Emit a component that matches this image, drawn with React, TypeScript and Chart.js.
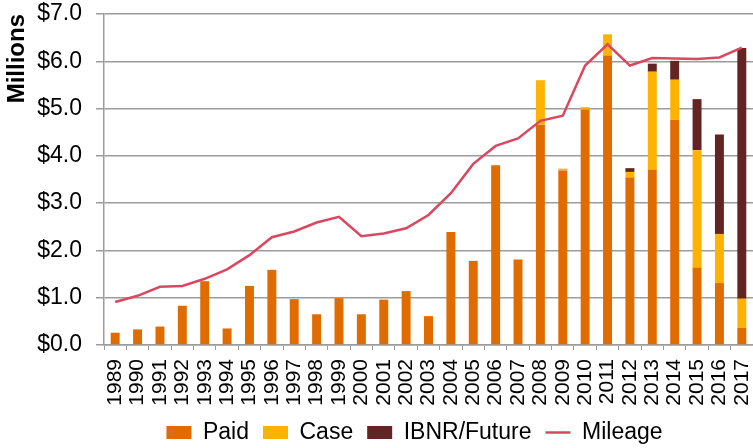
import React, { useEffect, useRef } from 'react';
import { Chart, registerables } from 'chart.js';

Chart.register(...registerables);

const years = [
  '1989', '1990', '1991', '1992', '1993', '1994', '1995', '1996', '1997', '1998',
  '1999', '2000', '2001', '2002', '2003', '2004', '2005', '2006', '2007', '2008',
  '2009', '2010', '2011', '2012', '2013', '2014', '2015', '2016', '2017',
];

const paid = [
  0.26, 0.33, 0.39, 0.83, 1.35, 0.35, 1.25, 1.59, 0.97, 0.65,
  0.99, 0.65, 0.96, 1.14, 0.61, 2.39, 1.78, 3.80, 1.81, 4.66,
  3.69, 4.98, 6.12, 3.54, 3.71, 4.76, 1.64, 1.31, 0.36,
];

const caseReserve = [
  0, 0, 0, 0, 0, 0, 0, 0, 0, 0,
  0, 0, 0, 0, 0, 0, 0, 0, 0, 0.94,
  0.04, 0.05, 0.45, 0.12, 2.07, 0.85, 2.48, 1.04, 0.62,
];

const ibnrFuture = [
  0, 0, 0, 0, 0, 0, 0, 0, 0, 0,
  0, 0, 0, 0, 0, 0, 0, 0, 0, 0,
  0, 0, 0, 0.08, 0.17, 0.40, 1.08, 2.10, 5.30,
];

const mileage = [
  0.91, 1.04, 1.23, 1.25, 1.40, 1.60, 1.90, 2.28, 2.40, 2.59,
  2.71, 2.30, 2.36, 2.47, 2.75, 3.21, 3.83, 4.21, 4.37, 4.74,
  4.85, 5.91, 6.36, 5.91, 6.07, 6.06, 6.05, 6.08, 6.29,
];

const yTickLabels = ['$0.0', '$1.0', '$2.0', '$3.0', '$4.0', '$5.0', '$6.0', '$7.0'];

const FONT = '"Liberation Sans", Arial, sans-serif';
const GRID = '#9c9c9c';

const legendShift = {
  id: 'legendShift',
  afterLayout(chart: any) {
    if (chart.legend) {
      chart.legend.left += 38;
      chart.legend.right += 38;
    }
  },
};

export default function App() {
  const ref = useRef<HTMLCanvasElement | null>(null);

  useEffect(() => {
    document.body.style.margin = '0';
    const canvas = ref.current;
    if (!canvas) return;
    const chart = new Chart(canvas, {
      type: 'bar',
      data: {
        labels: years,
        datasets: [
          {
            type: 'bar',
            label: 'Paid',
            data: paid,
            backgroundColor: '#E06C00',
            borderWidth: 0,
            stack: 'claims',
            order: 1,
            pointStyle: 'rect',
            categoryPercentage: 1,
            barPercentage: 0.4,
          },
          {
            type: 'bar',
            label: 'Case',
            data: caseReserve,
            backgroundColor: '#FFB300',
            borderWidth: 0,
            stack: 'claims',
            order: 1,
            pointStyle: 'rect',
            categoryPercentage: 1,
            barPercentage: 0.4,
          },
          {
            type: 'bar',
            label: 'IBNR/Future',
            data: ibnrFuture,
            backgroundColor: '#632523',
            borderWidth: 0,
            stack: 'claims',
            order: 1,
            pointStyle: 'rect',
            categoryPercentage: 1,
            barPercentage: 0.4,
          },
          {
            type: 'line',
            label: 'Mileage',
            data: mileage,
            borderColor: '#DA4860',
            backgroundColor: '#DA4860',
            borderWidth: 2.5,
            pointRadius: 0,
            tension: 0,
            stack: 'mileage',
            order: 0,
            pointStyle: 'line',
          } as any,
        ],
      },
      options: {
        animation: false,
        responsive: false,
        layout: { padding: { top: 14, right: 0, bottom: -6, left: 0 } },
        plugins: {
          tooltip: { enabled: false },
          legend: {
            position: 'bottom',
            labels: {
              usePointStyle: true,
              pointStyleWidth: 25,
              boxHeight: 13,
              padding: 14,
              color: '#000',
              font: { family: FONT, size: 23 },
              sort: (a: any, b: any) => a.datasetIndex - b.datasetIndex,
            },
          },
        },
        scales: {
          x: {
            stacked: true,
            grid: {
              display: true,
              drawOnChartArea: false,
              drawTicks: true,
              tickLength: 5,
              color: GRID,
              lineWidth: 1,
            },
            border: { display: true, color: GRID, width: 1.5 },
            ticks: {
              color: '#000',
              font: { family: FONT, size: 21 },
              minRotation: 90,
              maxRotation: 90,
              padding: 9,
              autoSkip: false,
            },
            afterFit: (scale: any) => {
              scale.height = 62;
              scale.paddingLeft = 0;
              scale.paddingRight = 0;
              scale.paddingTop = 0;
              scale.paddingBottom = 0;
            },
          },
          y: {
            stacked: true,
            min: 0,
            max: 7,
            grid: {
              color: GRID,
              lineWidth: 1.5,
              tickLength: 8,
            },
            border: { display: true, color: GRID, width: 1.5 },
            ticks: {
              stepSize: 1,
              color: '#000',
              font: { family: FONT, size: 23 },
              padding: 14,
              callback: (_v: any, i: number) => yTickLabels[i],
            },
            title: {
              display: true,
              text: 'Millions',
              align: 'end',
              color: '#000',
              font: { family: FONT, size: 24, weight: 'bold' },
              padding: { top: 3, bottom: 0 },
            },
            afterFit: (scale: any) => {
              scale.width = 104;
              scale.paddingLeft = 0;
              scale.paddingRight = 0;
              scale.paddingTop = 0;
              scale.paddingBottom = 0;
            },
          },
        },
      },
      plugins: [legendShift],
    });
    return () => chart.destroy();
  }, []);

  return (
    <div style={{ position: 'absolute', left: 0, top: 0, width: 753, height: 448 }}>
      <canvas ref={ref} width={753} height={448} style={{ display: 'block' }} />
    </div>
  );
}
